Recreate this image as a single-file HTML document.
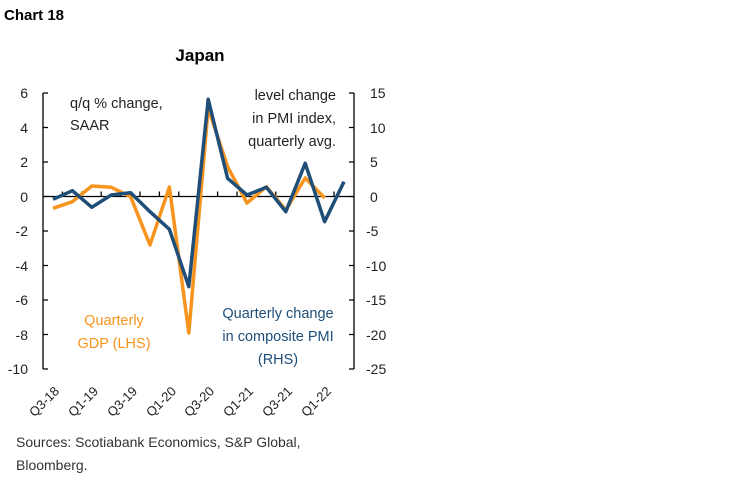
<!DOCTYPE html>
<html><head><meta charset="utf-8"><style>
body{margin:0;background:#fff;}
svg{display:block;font-family:"Liberation Sans",sans-serif;}
</style></head><body>
<svg width="750" height="483" viewBox="0 0 750 483">
<text x="4" y="20" font-size="15" font-weight="bold" fill="#000">Chart 18</text>
<text x="200" y="61" font-size="17" font-weight="bold" text-anchor="middle" fill="#000">Japan</text>
<g font-size="14" fill="#222">
<text x="28" y="98" text-anchor="end">6</text>
<text x="28" y="133" text-anchor="end">4</text>
<text x="28" y="167" text-anchor="end">2</text>
<text x="28" y="202" text-anchor="end">0</text>
<text x="28" y="236" text-anchor="end">-2</text>
<text x="28" y="271" text-anchor="end">-4</text>
<text x="28" y="305" text-anchor="end">-6</text>
<text x="28" y="340" text-anchor="end">-8</text>
<text x="28" y="374" text-anchor="end">-10</text>
<text x="370" y="98">15</text>
<text x="370" y="133">10</text>
<text x="370" y="167">5</text>
<text x="370" y="202">0</text>
<text x="366" y="236">-5</text>
<text x="366" y="271">-10</text>
<text x="366" y="305">-15</text>
<text x="366" y="340">-20</text>
<text x="366" y="374">-25</text>
</g>
<g stroke="#000" stroke-width="1.3" fill="none">
<line x1="43" y1="93" x2="43" y2="369"/>
<line x1="354" y1="93" x2="354" y2="369"/>
<path d="M43 93h5M43 127.5h5M43 162h5M43 196.5h5M43 231h5M43 265.5h5M43 300h5M43 334.5h5M43 369h5"/>
<path d="M354 93h-5M354 127.5h-5M354 162h-5M354 196.5h-5M354 231h-5M354 265.5h-5M354 300h-5M354 334.5h-5M354 369h-5"/>
<line x1="43" y1="196.5" x2="354" y2="196.5"/>
<path d="M62.4 196.5v-5M81.8 196.5v-5M101.2 196.5v-5M120.6 196.5v-5M140 196.5v-5M159.4 196.5v-5M178.8 196.5v-5M198.2 196.5v-5M217.6 196.5v-5M237 196.5v-5M256.4 196.5v-5M275.8 196.5v-5M295.2 196.5v-5M314.6 196.5v-5M334 196.5v-5"/>
</g>
<polyline fill="none" stroke="#f7941d" stroke-width="3.5" stroke-linejoin="round" points="53,208.3 72.4,201.7 91.8,186 111.2,187.3 130.6,196.7 150,245 169.4,187 188.8,333 208.2,108 227.6,166.7 247,203 266.4,186.7 285.8,210 305.2,178 324.6,198"/>
<polyline fill="none" stroke="#1f4e79" stroke-width="3.5" stroke-linejoin="round" points="53,199.3 72.4,190.7 91.8,207.3 111.2,195 130.6,192.7 150,211.7 169.4,229.3 188.8,286.7 208.2,99.3 227.6,178.3 247,195 266.4,187.3 285.8,211.7 305.2,163.3 324.6,221.7 344,181.7"/>
<g font-size="14.5" fill="#222">
<text x="70" y="108">q/q % change,</text>
<text x="70" y="130">SAAR</text>
<text x="336" y="100" text-anchor="end">level change</text>
<text x="336" y="123" text-anchor="end">in PMI index,</text>
<text x="336" y="146" text-anchor="end">quarterly avg.</text>
</g>
<g font-size="14.5" fill="#f7941d" text-anchor="middle">
<text x="114" y="325">Quarterly</text>
<text x="114" y="348">GDP (LHS)</text>
</g>
<g font-size="14.5" fill="#1f4e79" text-anchor="middle">
<text x="278" y="318">Quarterly change</text>
<text x="278" y="341">in composite PMI</text>
<text x="278" y="364">(RHS)</text>
</g>
<g font-size="13" fill="#222" text-anchor="end">
<text transform="translate(60,392) rotate(-45)">Q3-18</text>
<text transform="translate(99,392) rotate(-45)">Q1-19</text>
<text transform="translate(138,392) rotate(-45)">Q3-19</text>
<text transform="translate(177,392) rotate(-45)">Q1-20</text>
<text transform="translate(215,392) rotate(-45)">Q3-20</text>
<text transform="translate(254,392) rotate(-45)">Q1-21</text>
<text transform="translate(293,392) rotate(-45)">Q3-21</text>
<text transform="translate(332,392) rotate(-45)">Q1-22</text>
</g>
<g font-size="14" fill="#333">
<text x="16" y="447">Sources: Scotiabank Economics, S&amp;P Global,</text>
<text x="16" y="470">Bloomberg.</text>
</g>
</svg>
</body></html>
